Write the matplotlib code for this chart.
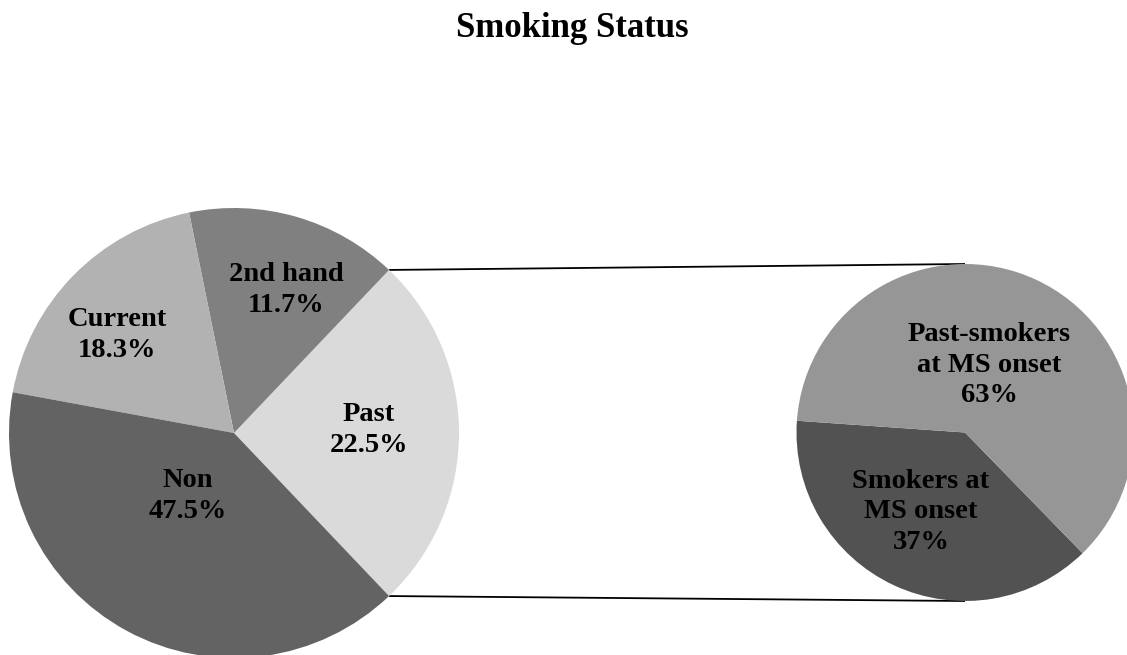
import numpy as np
import matplotlib.pyplot as plt

# left pie: wedge shares as drawn (angles), printed labels
main_names = ['Past', '2nd hand', 'Current', 'Non']
main_labels = ['22.5%', '11.7%', '18.3%', '47.5%']
main_share = [25.8, 15.3, 18.9, 40.0]
main_colors = ['#dadada', '#808080', '#b2b2b2', '#636363']

# right pie: split of the "Past" slice
sub_names = ['Smokers at\nMS onset', 'Past-smokers\nat MS onset']
sub_labels = ['37%', '63%']
sub_share = [38.4, 61.6]
sub_colors = ['#525252', '#969696']

W, H = 1127, 655
fig = plt.figure(figsize=(W / 100, H / 100), dpi=100)
ax = fig.add_axes([0, 0, 1, 1])

font = dict(family='Liberation Serif', weight='bold')

c1, r1 = (234, H - 433), 225
c2, r2 = (965, H - 432.5), 168.5

start1 = -main_share[0] / 100 * 180
w1, _ = ax.pie(main_share, colors=main_colors, center=c1, radius=r1,
               startangle=start1, counterclock=True, frame=True,
               wedgeprops=dict(linewidth=0))
w2, _ = ax.pie(sub_share, colors=sub_colors, center=c2, radius=r2,
               startangle=176, counterclock=True, frame=True,
               wedgeprops=dict(linewidth=0))
ax.set_xlim(0, W)
ax.set_ylim(0, H)
ax.set_aspect('equal')
ax.axis('off')

# connector lines from the Past slice edges to the right pie
past = w1[0]
for ang, y2 in [(past.theta2, c2[1] + r2), (past.theta1, c2[1] - r2)]:
    a = np.deg2rad(ang)
    x1 = c1[0] + r1 * np.cos(a)
    y1 = c1[1] + r1 * np.sin(a)
    ax.plot([x1, c2[0]], [y1, y2], color='black', lw=1.3,
            solid_capstyle='butt', zorder=0)

# label positions (pixel coords from top-left)
main_pos = [(369, 430), (286, 290), (117, 335), (188, 496)]
for name, lab, (x, y) in zip(main_names, main_labels, main_pos):
    ax.text(x, H - y, f'{name}\n{lab}', ha='center', va='center',
            fontsize=20.5, linespacing=1.3, **font)

sub_pos = [(921, 512), (989, 365)]
for name, lab, (x, y) in zip(sub_names, sub_labels, sub_pos):
    ax.text(x, H - y, f'{name}\n{lab}', ha='center', va='center',
            fontsize=20.5, linespacing=1.3, **font)

ax.text(572, H - 37, 'Smoking Status', ha='center', va='baseline',
        fontsize=25, **font)

fig.savefig('out.png', dpi=100)
